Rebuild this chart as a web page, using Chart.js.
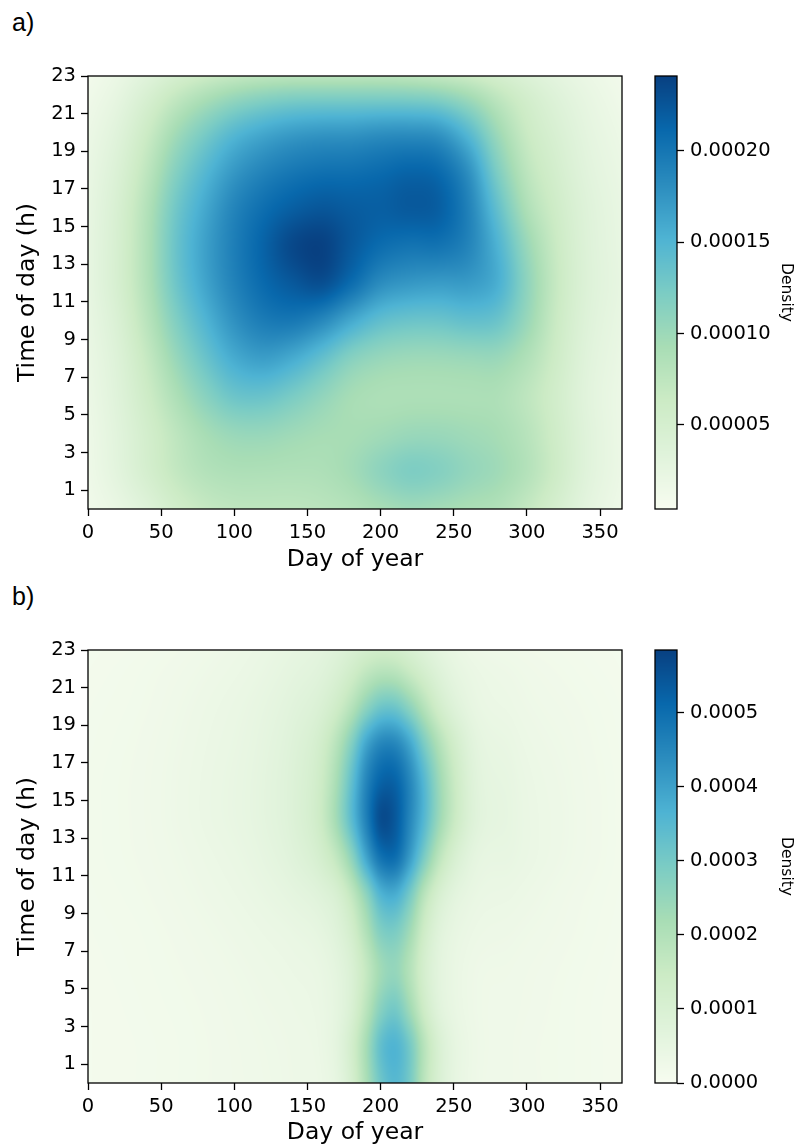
<!DOCTYPE html>
<html>
<head>
<meta charset="utf-8">
<script src="https://cdn.jsdelivr.net/npm/chart.js@4/dist/chart.umd.min.js"></script>
<style>
  html, body { margin: 0; padding: 0; background: #fff; }
  body { width: 797px; height: 1147px; position: relative; overflow: hidden; }
  .panel { position: absolute; left: 0; width: 797px; }
  .lab { position: absolute; left: 12px; font: 25px "Liberation Sans", Arial, sans-serif; line-height: 25px; color: #000; }
</style>
</head>
<body>
<div class="lab" style="top:10px">a)</div>
<div class="lab" style="top:584px">b)</div>
<div class="panel" style="top:0;height:574px"><canvas id="chartA" width="797" height="574"></canvas></div>
<div class="panel" style="top:574px;height:573px"><canvas id="chartB" width="797" height="573"></canvas></div>
<script>
// ---------------- data (density values in units of 1e-5) ----------------
const UNIT = 1e-5;
const HOURS = [0, 2, 4, 6, 8, 10, 12, 14, 16, 18, 20, 22, 23];

const DAYS_A = [0, 20, 40, 60, 80, 100, 120, 140, 160, 180, 200, 220, 240, 260, 280, 300, 320, 340, 365];
const DENSITY_A = [
  [1.2, 2.2, 3.6, 5.5, 6.8, 7.4, 7.5, 7.5, 7.8, 8.3, 9.2, 9.8, 9.5, 9.0, 8.5, 7.0, 5.0, 3.0, 1.5],   // 0 h
  [1.5, 3.0, 5.0, 7.0, 8.3, 8.8, 8.8, 8.7, 8.8, 9.6, 11.0, 12.0, 11.6, 10.6, 9.8, 8.3, 6.0, 3.5, 1.8], // 2 h
  [1.6, 3.2, 5.3, 7.5, 9.3, 10.3, 10.4, 9.9, 9.4, 9.3, 9.7, 10.2, 10.2, 9.8, 9.3, 8.0, 5.8, 3.5, 1.8], // 4 h
  [1.8, 3.5, 6.0, 8.8, 11.3, 13.2, 13.4, 12.3, 10.8, 9.4, 8.9, 8.9, 8.9, 8.9, 8.8, 7.5, 5.5, 3.3, 1.8], // 6 h
  [2.0, 3.8, 6.8, 10.3, 13.3, 15.8, 16.8, 15.8, 13.8, 11.5, 10.4, 10.0, 10.0, 10.2, 10.2, 8.6, 6.0, 3.5, 2.0], // 8 h
  [2.2, 4.3, 7.8, 11.8, 15.0, 17.8, 19.5, 19.8, 18.5, 16.0, 14.0, 13.3, 13.3, 13.8, 13.3, 10.3, 6.5, 3.8, 2.2], // 10 h
  [2.4, 4.8, 8.5, 13.0, 16.3, 19.0, 21.0, 22.3, 23.0, 20.8, 18.2, 17.3, 17.0, 17.0, 15.5, 11.0, 6.8, 4.0, 2.4], // 12 h
  [2.4, 4.8, 8.6, 13.3, 16.6, 19.3, 21.5, 23.5, 24.0, 22.3, 20.8, 20.2, 20.2, 18.8, 15.2, 10.3, 6.5, 3.9, 2.3], // 14 h
  [2.3, 4.6, 8.3, 12.8, 16.0, 18.8, 20.6, 21.8, 22.4, 22.0, 21.8, 22.2, 21.8, 19.0, 13.8, 8.8, 5.9, 3.7, 2.2], // 16 h
  [2.1, 4.1, 7.4, 11.5, 14.6, 17.2, 18.8, 19.8, 20.3, 20.4, 20.8, 21.3, 20.8, 17.8, 12.0, 7.6, 5.2, 3.3, 2.0], // 18 h
  [1.8, 3.4, 6.2, 9.6, 12.3, 14.6, 16.0, 16.9, 17.3, 17.4, 17.8, 17.9, 17.4, 14.5, 10.0, 6.5, 4.5, 2.9, 1.7], // 20 h
  [1.3, 2.5, 4.5, 6.8, 8.6, 10.0, 10.9, 11.4, 11.5, 11.5, 11.5, 11.4, 10.9, 9.4, 7.2, 5.2, 3.6, 2.4, 1.3], // 22 h
  [1.0, 2.0, 3.4, 5.0, 6.2, 7.0, 7.5, 7.7, 7.7, 7.7, 7.7, 7.5, 7.0, 6.3, 5.2, 4.0, 2.9, 2.0, 1.1]      // 23 h
];

const DAYS_B = [0, 40, 80, 120, 140, 160, 170, 180, 190, 200, 210, 220, 230, 240, 250, 260, 290, 330, 365];
const DENSITY_B = [
  [1.2, 1.5, 2.0, 2.6, 3.0, 3.6, 5.5, 11.0, 21.0, 31.0, 35.0, 30.0, 18.0, 10.0, 5.5, 3.6, 2.4, 1.8, 1.2], // 0 h
  [1.2, 1.5, 2.0, 2.7, 3.1, 4.0, 6.2, 12.0, 22.0, 33.0, 36.0, 30.0, 18.5, 10.0, 5.6, 3.7, 2.4, 1.8, 1.2], // 2 h
  [1.2, 1.6, 2.1, 2.9, 3.3, 4.2, 5.8, 9.8, 18.0, 27.0, 30.0, 23.0, 13.5, 7.2, 4.6, 3.3, 2.5, 1.8, 1.2],  // 4 h
  [1.3, 1.7, 2.3, 3.2, 3.7, 4.6, 6.2, 9.5, 16.0, 23.0, 25.0, 19.5, 11.5, 6.5, 4.4, 3.3, 2.6, 1.9, 1.3],  // 6 h
  [1.4, 1.8, 2.6, 3.7, 4.4, 5.8, 7.8, 12.0, 20.0, 28.0, 29.0, 23.0, 13.5, 7.5, 5.0, 3.9, 3.0, 2.1, 1.4], // 8 h
  [1.5, 2.0, 3.0, 4.5, 5.8, 8.0, 10.5, 16.5, 26.0, 36.0, 37.5, 30.0, 18.5, 10.8, 6.8, 5.0, 3.7, 2.3, 1.5], // 10 h
  [1.6, 2.2, 3.4, 5.4, 7.5, 12.0, 17.0, 26.0, 39.0, 49.0, 50.0, 41.0, 29.0, 18.0, 11.0, 7.0, 4.6, 2.7, 1.6], // 12 h
  [1.6, 2.3, 3.8, 6.0, 8.5, 15.0, 23.0, 34.0, 46.0, 56.0, 54.0, 45.0, 35.0, 24.0, 15.5, 9.5, 5.0, 2.8, 1.6], // 14 h
  [1.6, 2.3, 3.8, 6.0, 8.5, 14.5, 22.0, 33.0, 45.0, 52.0, 52.0, 45.0, 35.0, 24.0, 15.5, 9.3, 4.8, 2.7, 1.6], // 16 h
  [1.5, 2.2, 3.6, 5.7, 8.0, 13.0, 19.0, 28.0, 39.0, 45.0, 45.0, 39.0, 29.0, 20.0, 13.0, 8.0, 4.2, 2.5, 1.5], // 18 h
  [1.4, 2.0, 3.3, 5.2, 7.0, 10.0, 13.5, 19.0, 26.0, 31.0, 31.0, 26.0, 19.0, 12.5, 8.2, 5.6, 3.4, 2.2, 1.4], // 20 h
  [1.2, 1.8, 2.8, 4.4, 5.8, 7.5, 9.5, 12.5, 16.0, 18.0, 17.5, 14.5, 11.0, 7.8, 5.5, 4.2, 2.8, 1.8, 1.2],  // 22 h
  [1.1, 1.6, 2.5, 4.0, 5.2, 6.6, 8.0, 10.0, 12.0, 13.0, 12.5, 10.5, 8.2, 6.0, 4.5, 3.4, 2.3, 1.6, 1.1]    // 23 h
];

const X_TICKS = [0, 50, 100, 150, 200, 250, 300, 350];
const Y_TICKS = [1, 3, 5, 7, 9, 11, 13, 15, 17, 19, 21, 23];
const CB_RANGE_A = [0.000004, 0.000241];
const CB_TICKS_A = [0.00005, 0.00010, 0.00015, 0.00020];
const CB_RANGE_B = [0.0, 0.000585];
const CB_TICKS_B = [0.0000, 0.0001, 0.0002, 0.0003, 0.0004, 0.0005];

// ---------------- colormap (matplotlib GnBu) ----------------
const GNBU = ['#f7fcf0','#e0f3db','#ccebc5','#a8ddb5','#7bccc4','#4eb3d3','#2b8cbe','#0868ac','#084081']
  .map(h => [parseInt(h.slice(1,3),16), parseInt(h.slice(3,5),16), parseInt(h.slice(5,7),16)]);
function cmap(t) {
  t = Math.max(0, Math.min(1, t));
  const f = t * (GNBU.length - 1);
  const k = Math.min(GNBU.length - 2, Math.floor(f));
  const u = f - k;
  const a = GNBU[k], b = GNBU[k + 1];
  return [a[0] + (b[0]-a[0])*u, a[1] + (b[1]-a[1])*u, a[2] + (b[2]-a[2])*u];
}

// cubic Hermite (display smoothing between read grid nodes, like imshow interpolation)
function herm(xs, ys, x) {
  const n = xs.length;
  if (x <= xs[0]) return ys[0];
  if (x >= xs[n-1]) return ys[n-1];
  let k = 0; while (k < n - 2 && x > xs[k+1]) k++;
  const tan = i => {
    if (i === 0) return (ys[1]-ys[0])/(xs[1]-xs[0]);
    if (i === n-1) return (ys[n-1]-ys[n-2])/(xs[n-1]-xs[n-2]);
    const h0 = xs[i]-xs[i-1], h1 = xs[i+1]-xs[i];
    const d0 = (ys[i]-ys[i-1])/h0, d1 = (ys[i+1]-ys[i])/h1;
    return (d0*h1 + d1*h0)/(h0+h1);
  };
  const h = xs[k+1]-xs[k], t = (x - xs[k]) / h, t2 = t*t, t3 = t2*t;
  return (2*t3-3*t2+1)*ys[k] + (t3-2*t2+t)*h*tan(k) + (-2*t3+3*t2)*ys[k+1] + (t3-t2)*h*tan(k+1);
}

function makeHeatPlugin(days, hours, dens) {
  return {
    id: 'heat',
    beforeDatasetsDraw(chart) {
      const {ctx, chartArea: a, scales} = chart;
      const xs = scales.x, ysc = scales.y, cb = scales.cb;
      const L = Math.round(a.left), T = Math.round(a.top);
      const W = Math.round(a.right) - L, H = Math.round(a.bottom) - T;
      const R = hours.length;
      const rowVals = dens.map(row => {
        const arr = new Float64Array(W);
        for (let i = 0; i < W; i++) arr[i] = herm(days, row, xs.getValueForPixel(L + i + 0.5));
        return arr;
      });
      const img = ctx.createImageData(W, H);
      const w = new Float64Array(R);
      const e = new Array(R).fill(0);
      for (let j = 0; j < H; j++) {
        const hr = ysc.getValueForPixel(T + j + 0.5);
        for (let r = 0; r < R; r++) { e.fill(0); e[r] = 1; w[r] = herm(hours, e, hr); }
        for (let i = 0; i < W; i++) {
          let v = 0;
          for (let r = 0; r < R; r++) if (w[r] !== 0) v += w[r] * rowVals[r][i];
          v = Math.max(0, v) * UNIT;
          const c = cmap((v - cb.min) / (cb.max - cb.min));
          const p = (j * W + i) * 4;
          img.data[p] = c[0]; img.data[p+1] = c[1]; img.data[p+2] = c[2]; img.data[p+3] = 255;
        }
      }
      ctx.putImageData(img, L, T);
    },
    afterDraw(chart) {
      const {ctx, chartArea: a, scales: {cb}} = chart;
      const bw = 22, x1 = cb.left, x0 = x1 - bw;
      ctx.save();
      for (let py = Math.floor(a.top); py < Math.ceil(a.bottom); py++) {
        const v = cb.getValueForPixel(py + 0.5);
        const c = cmap((v - cb.min) / (cb.max - cb.min));
        ctx.fillStyle = `rgb(${Math.round(c[0])},${Math.round(c[1])},${Math.round(c[2])})`;
        ctx.fillRect(x0, py, bw, 1);
      }
      ctx.strokeStyle = '#000'; ctx.lineWidth = 1.3;
      ctx.strokeRect(a.left, a.top, a.right - a.left, a.bottom - a.top);
      ctx.strokeRect(x0, a.top, bw, a.bottom - a.top);
      ctx.restore();
    }
  };
}

Chart.defaults.font.family = "'DejaVu Sans', sans-serif";
Chart.defaults.color = '#000';

function makeChart(id, days, dens, cbRange, cbTicks, decimals, xHeight) {
  const pts = [];
  HOURS.forEach((h, r) => days.forEach((d, c) => pts.push({x: d, y: h, v: dens[r][c] * UNIT})));
  const tickFont = {family: "'DejaVu Sans', sans-serif", size: 19.5};
  const gridCommon = {drawOnChartArea: false, drawTicks: true, tickLength: 7, tickWidth: 1.3, tickColor: '#000'};
  return new Chart(document.getElementById(id), {
    type: 'scatter',
    data: {datasets: [{data: pts, pointRadius: 0, pointHoverRadius: 0, showLine: false}]},
    options: {
      responsive: false,
      animation: false,
      events: [],
      layout: {padding: {top: 76, left: 0, right: 0, bottom: 0}},
      plugins: {legend: {display: false}, tooltip: {enabled: false}},
      scales: {
        x: {
          type: 'linear', position: 'bottom', min: 0, max: 365,
          afterBuildTicks: s => { s.ticks = X_TICKS.map(v => ({value: v})); },
          afterFit: s => { s.height = xHeight; },
          grid: gridCommon,
          border: {display: false},
          ticks: {font: tickFont, color: '#000', padding: 5, maxRotation: 0, autoSkip: false},
          title: {display: true, text: 'Day of year', color: '#000',
                  font: {family: "'DejaVu Sans', sans-serif", size: 23.5}, padding: {top: 0, bottom: 0}}
        },
        y: {
          type: 'linear', position: 'left', min: 0, max: 23,
          afterBuildTicks: s => { s.ticks = Y_TICKS.map(v => ({value: v})); },
          afterFit: s => { s.width = 88; },
          grid: gridCommon,
          border: {display: false},
          ticks: {font: tickFont, color: '#000', padding: 5, autoSkip: false},
          title: {display: true, text: 'Time of day (h)', color: '#000',
                  font: {family: "'DejaVu Sans', sans-serif", size: 23.5}, padding: {top: 14, bottom: 0}}
        },
        gap: {
          type: 'linear', position: 'right', weight: 0, display: true,
          afterFit: s => { s.width = 55; },
          grid: {display: false}, border: {display: false}, ticks: {display: false}
        },
        cb: {
          type: 'linear', position: 'right', weight: 1, min: cbRange[0], max: cbRange[1],
          afterBuildTicks: s => { s.ticks = cbTicks.map(v => ({value: v})); },
          afterFit: s => { s.width = 120; },
          grid: gridCommon,
          border: {display: false},
          ticks: {font: tickFont, color: '#000', padding: 6, autoSkip: false,
                  callback: v => Number(v).toFixed(decimals)},
          title: {display: true, text: 'Density', color: '#000',
                  font: {family: "'DejaVu Sans', sans-serif", size: 15.5}, padding: {top: 2, bottom: 0}}
        }
      }
    },
    plugins: [makeHeatPlugin(days, HOURS, dens)]
  });
}

makeChart('chartA', DAYS_A, DENSITY_A, CB_RANGE_A, CB_TICKS_A, 5, 65);
makeChart('chartB', DAYS_B, DENSITY_B, CB_RANGE_B, CB_TICKS_B, 4, 64);
</script>
</body>
</html>
